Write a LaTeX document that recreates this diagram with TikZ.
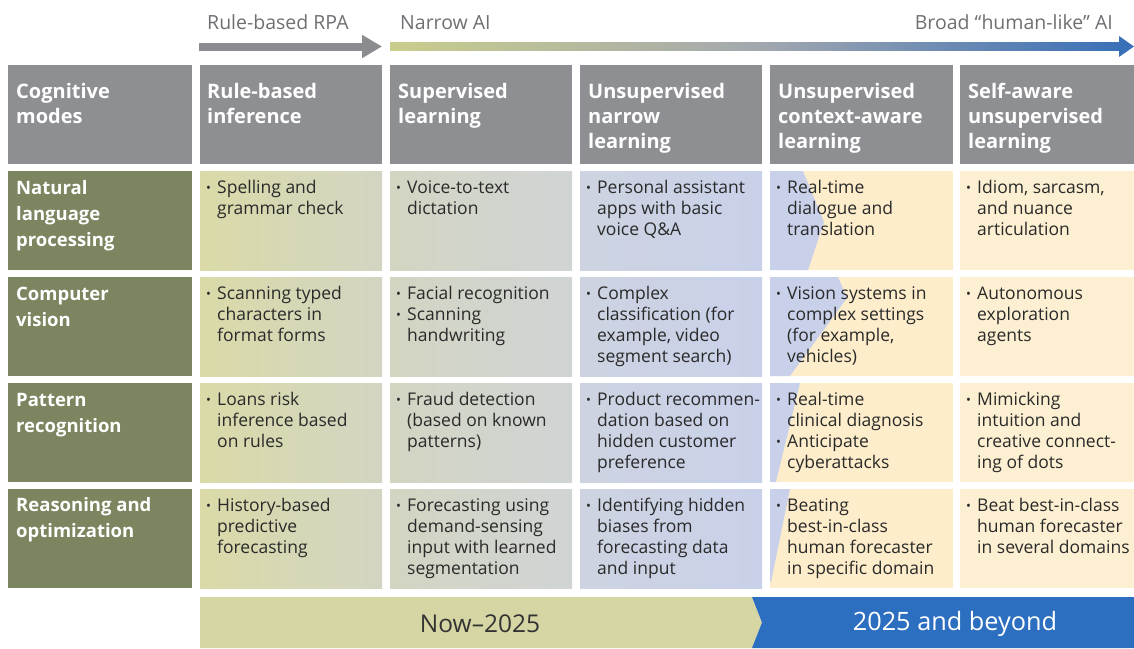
\documentclass[tikz,border=0pt]{standalone}
\usepackage{fontspec}
\setmainfont{Open Sans}
\usetikzlibrary{arrows.meta}
\definecolor{hdr}{HTML}{8D8F92}
\definecolor{leftg}{HTML}{7B8660}
\definecolor{toparr}{HTML}{8A8C8F}
\definecolor{toptxt}{HTML}{6E7073}
\definecolor{bodytxtc}{HTML}{2A2A2A}
\definecolor{olive}{HTML}{D6D6A4}
\definecolor{bluebar}{HTML}{2C6EBF}
\definecolor{cA}{HTML}{DADAA8}
\definecolor{cB}{HTML}{D3D5C2}
\definecolor{cC}{HTML}{D0D4D4}
\definecolor{cD}{HTML}{CDD3E0}
\definecolor{cE}{HTML}{C9D1EA}
\definecolor{cream}{HTML}{FDEDCB}
\definecolor{cream2}{HTML}{FDF0D2}
\definecolor{arrY}{HTML}{C9CD8C}
\definecolor{arrM}{HTML}{A3A8AE}
\definecolor{arrB}{HTML}{3A70B8}
\newcommand\bl{\makebox[11pt][l]{\raisebox{0.5pt}{\fontsize{13}{13}\selectfont\textbullet}}}
\newcommand\ind{\hspace*{11pt}}
\newcommand\lns[1]{\begin{tabular}[t]{@{}l@{}}#1\end{tabular}}
\tikzset{
  cellbox/.style={anchor=north west, inner sep=0pt, outer sep=0pt, minimum height=99pt, draw=none},
  hdrtxt/.style={anchor=base west, inner sep=0pt, text=white, font=\bfseries\fontsize{20}{25}\selectfont},
  lefttxt/.style={anchor=base west, inner sep=0pt, text=white, font=\bfseries\fontsize{18.5}{26}\selectfont},
  bodytxt/.style={anchor=base west, inner sep=0pt, text=bodytxtc, font=\fontsize{17.5}{21}\selectfont},
  toplabel/.style={anchor=base west, inner sep=0pt, text=toptxt, font=\fontsize{19.5}{22}\selectfont},
  bartxt/.style={anchor=center, inner sep=0pt, font=\fontsize{24.5}{28}\selectfont}
}
\begin{document}
\begin{tikzpicture}[x=1pt,y=-1pt]
\useasboundingbox (0,0) rectangle (1134,648);
\fill[white] (0,0) rectangle (1134,648);

% ---------- top arrows ----------
\node[toplabel] (lrpa) at (207,29) {Rule-based RPA};
\node[toplabel] (lnar) at (400,29) {Narrow AI};
\node[toplabel, anchor=base east] (lbroad) at (1113,29) {Broad “human-like” AI};
\coordinate (g1s) at (199,46.5);
\coordinate (g1e) at (382,46.5);
\draw[toparr, line width=8pt, -{Triangle[length=20pt,width=22pt]}] (g1s) -- (g1e);
\shade[left color=arrY, right color=arrB, middle color=arrM] (390,42.5) rectangle (1121,50.5);
\fill[arrB] (1119,36) -- (1134,46.5) -- (1119,57) -- cycle;

% ---------- header row ----------
\node[cellbox, fill=hdr, minimum width=184pt] (h0) at (8,65) {};
\node[cellbox, fill=hdr, minimum width=182pt] (h1) at (200,65) {};
\node[cellbox, fill=hdr, minimum width=182pt] (h2) at (390,65) {};
\node[cellbox, fill=hdr, minimum width=182pt] (h3) at (580,65) {};
\node[cellbox, fill=hdr, minimum width=183pt] (h4) at (770,65) {};
\node[cellbox, fill=hdr, minimum width=174pt] (h5) at (960,65) {};
\node[hdrtxt] (th0) at (16,98) {\lns{Cognitive\\modes}};
\node[hdrtxt] (th1) at (207,98) {\lns{Rule-based\\inference}};
\node[hdrtxt] (th2) at (398,98) {\lns{Supervised\\learning}};
\node[hdrtxt] (th3) at (588,98) {\lns{Unsupervised\\narrow\\learning}};
\node[hdrtxt] (th4) at (778,98) {\lns{Unsupervised\\context-aware\\learning}};
\node[hdrtxt] (th5) at (968,98) {\lns{Self-aware\\unsupervised\\learning}};

% ---------- body cells ----------
\foreach \r/\yy in {1/171,2/277,3/383,4/489}{
  \node[cellbox, fill=leftg, minimum width=184pt] (l\r) at (8,\yy) {};
  \node[cellbox, left color=cA, right color=cB, minimum width=182pt] (c\r1) at (200,\yy) {};
  \node[cellbox, left color=cB, right color=cC, minimum width=182pt] (c\r2) at (390,\yy) {};
  \node[cellbox, left color=cD, right color=cE, minimum width=182pt] (c\r3) at (580,\yy) {};
  \node[cellbox, fill=cream, minimum width=183pt] (c\r4) at (770,\yy) {};
  \node[cellbox, fill=cream2, minimum width=174pt] (c\r5) at (960,\yy) {};
}
% blue wedges in context-aware column
\fill[cE] (770,171) -- (803,171) -- (824,222) -- (808,270) -- (770,270) -- cycle;
\fill[cE] (770,277) -- (838,277) -- (847,298) -- (790,376) -- (770,376) -- cycle;
\fill[cE] (770,383) -- (800,383) -- (776,482) -- (770,482) -- cycle;
\fill[cE] (770,489) -- (790,489) -- (771,582) -- (770,582) -- cycle;

% left column text
\node[lefttxt] (tl1) at (16,194) {\lns{Natural\\language\\processing}};
\node[lefttxt] (tl2) at (16,300) {\lns{Computer\\vision}};
\node[lefttxt] (tl3) at (16,406) {\lns{Pattern\\recognition}};
\node[lefttxt] (tl4) at (16,511) {\lns{Reasoning and\\optimization}};

% row 1
\node[bodytxt] (t11) at (206,193) {\lns{\bl Spelling and\\\ind grammar check}};
\node[bodytxt] (t12) at (396,193) {\lns{\bl Voice-to-text\\\ind dictation}};
\node[bodytxt] (t13) at (586,193) {\lns{\bl Personal assistant\\\ind apps with basic\\\ind voice Q\&A}};
\node[bodytxt] (t14) at (776,193) {\lns{\bl Real-time\\\ind dialogue and\\\ind translation}};
\node[bodytxt] (t15) at (966,193) {\lns{\bl Idiom, sarcasm,\\\ind and nuance\\\ind articulation}};
% row 2
\node[bodytxt] (t21) at (206,299) {\lns{\bl Scanning typed\\\ind characters in\\\ind format forms}};
\node[bodytxt] (t22) at (396,299) {\lns{\bl Facial recognition\\\bl Scanning\\\ind handwriting}};
\node[bodytxt] (t23) at (586,299) {\lns{\bl Complex\\\ind classification (for\\\ind example, video\\\ind segment search)}};
\node[bodytxt] (t24) at (776,299) {\lns{\bl Vision systems in\\\ind complex settings\\\ind (for example,\\\ind vehicles)}};
\node[bodytxt] (t25) at (966,299) {\lns{\bl Autonomous\\\ind exploration\\\ind agents}};
% row 3
\node[bodytxt] (t31) at (206,405) {\lns{\bl Loans risk\\\ind inference based\\\ind on rules}};
\node[bodytxt] (t32) at (396,405) {\lns{\bl Fraud detection\\\ind (based on known\\\ind patterns)}};
\node[bodytxt] (t33) at (586,405) {\lns{\bl Product recommen-\\\ind dation based on\\\ind hidden customer\\\ind preference}};
\node[bodytxt] (t34) at (776,405) {\lns{\bl Real-time\\\ind clinical diagnosis\\\bl Anticipate\\\ind cyberattacks}};
\node[bodytxt] (t35) at (966,405) {\lns{\bl Mimicking\\\ind intuition and\\\ind creative connect-\\\ind ing of dots}};
% row 4
\node[bodytxt] (t41) at (206,511) {\lns{\bl History-based\\\ind predictive\\\ind forecasting}};
\node[bodytxt] (t42) at (396,511) {\lns{\bl Forecasting using\\\ind demand-sensing\\\ind input with learned\\\ind segmentation}};
\node[bodytxt] (t43) at (586,511) {\lns{\bl Identifying hidden\\\ind biases from\\\ind forecasting data\\\ind and input}};
\node[bodytxt] (t44) at (776,511) {\lns{\bl Beating\\\ind best-in-class\\\ind human forecaster\\\ind in specific domain}};
\node[bodytxt] (t45) at (966,511) {\lns{\bl Beat best-in-class\\\ind human forecaster\\\ind in several domains}};

% ---------- bottom bar ----------
\fill[olive] (200,597) -- (752,597) -- (762,622.5) -- (752,648) -- (200,648) -- cycle;
\fill[bluebar] (752,597) -- (1134,597) -- (1134,648) -- (752,648) -- (762,622.5) -- cycle;
\node[bartxt, text=black!80] (bnow) at (480,624) {Now–2025};
\node[bartxt, text=white, font=\fontsize{25.3}{28}\selectfont] (bbey) at (955,624) {2025 and beyond};
\end{tikzpicture}
\end{document}
